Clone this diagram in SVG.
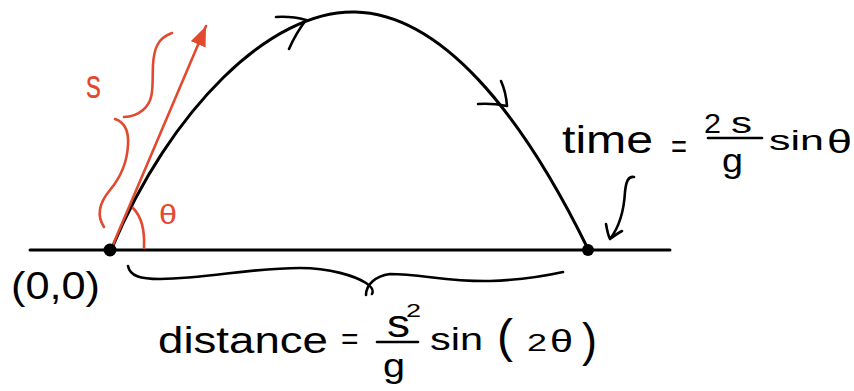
<svg xmlns="http://www.w3.org/2000/svg" width="854" height="391" viewBox="0 0 854 391">
<defs>
<style>
.ink{fill:none;stroke:#000;stroke-width:3;stroke-linecap:round;stroke-linejoin:round}
.thin{fill:none;stroke:#000;stroke-width:2.6;stroke-linecap:round;stroke-linejoin:round}
.red{fill:none;stroke:#e2492f;stroke-width:2.6;stroke-linecap:round;stroke-linejoin:round}
.t{font-family:"Liberation Sans",Arial,sans-serif;fill:#000}
.tr{font-family:"Liberation Sans",Arial,sans-serif;fill:#e2492f}
</style>
<marker id="redhead" markerUnits="userSpaceOnUse" markerWidth="22" markerHeight="18" refX="20" refY="8" orient="auto">
<path d="M0,0 L20,8 L0,16 z" fill="#e2492f"/>
</marker>
</defs>
<rect width="854" height="391" fill="#fff"/>

<g id="ground">
<line class="ink" x1="30" y1="250" x2="670" y2="250"/>
</g>

<g id="connectors">
<path id="trajectory" class="ink" d="M112,248 C170,110 270,10 355,12 C440,14 520,110 588,249"/>
<path id="chevron1" class="thin" d="M276,17 Q292,16 306,20 Q296,33 289,49"/>
<path id="chevron2" class="thin" d="M501,81 Q506,92 507,106 Q492,103 478,104"/>
<line id="velocity" class="red" x1="112" y1="247" x2="206" y2="26" stroke-width="3" marker-end="url(#redhead)"/>
<path id="time-pointer" class="thin" d="M634,177 C628,176 626,182 625,192 C624,210 620,226 610,239 M606,224 C607,230 608,235 610,239 C614,236 618,233 622,231"/>
</g>

<g id="origin">
<circle cx="110" cy="250" r="6.5" fill="#000"/>
<text class="t" x="11" y="299" font-size="38" textLength="89" lengthAdjust="spacingAndGlyphs">(0,0)</text>
</g>

<g id="landing">
<circle cx="588" cy="250" r="6" fill="#000"/>
</g>

<g id="speed-label">
<path class="red" d="M172,33 C158,38 154,48 153,65 C152,85 155,100 143,110 C137,115 130,117 124,117"/>
<path class="red" d="M115,119 C124,122 129,130 128,145 C127,165 120,178 110,190 C100,202 96,215 104,227"/>
<text class="tr" x="86" y="98" font-size="40" textLength="15" lengthAdjust="spacingAndGlyphs">s</text>
</g>

<g id="angle-label">
<path class="red" d="M133,208 C141,216 145,228 144,248"/>
<text class="tr" x="159" y="224" font-size="27" textLength="18" lengthAdjust="spacingAndGlyphs">θ</text>
</g>

<g id="distance-label">
<path class="thin" d="M128,266 C130,276 140,279 160,279 C210,278 250,268 300,268 C330,268 355,276 366,283 C372,287 374,290 372,294"/>
<path class="thin" d="M366,295 C366,285 375,276 390,274 C420,274 450,282 490,281 C520,280 545,276 563,272"/>
<line class="thin" x1="377" y1="342" x2="418" y2="342"/>
<text class="t"><tspan x="158" y="353" font-size="36" textLength="170" lengthAdjust="spacingAndGlyphs">distance</tspan><tspan x="341" y="349" font-size="30">=</tspan><tspan x="387" y="337" font-size="38" textLength="23" lengthAdjust="spacingAndGlyphs">s</tspan><tspan x="406" y="317" font-size="18" textLength="15" lengthAdjust="spacingAndGlyphs">2</tspan></text>
<text class="t"><tspan x="383" y="377" font-size="34" textLength="22" lengthAdjust="spacingAndGlyphs">g</tspan><tspan x="430" y="350" font-size="32" textLength="53" lengthAdjust="spacingAndGlyphs">sin</tspan><tspan x="497" y="352" font-size="46" textLength="16" lengthAdjust="spacingAndGlyphs">(</tspan><tspan x="527" y="351" font-size="23" textLength="20" lengthAdjust="spacingAndGlyphs">2</tspan><tspan x="550" y="352" font-size="32" textLength="23" lengthAdjust="spacingAndGlyphs">θ</tspan><tspan x="582" y="356" font-size="46" textLength="15" lengthAdjust="spacingAndGlyphs">)</tspan></text>
</g>

<g id="time-label">
<line class="thin" x1="708" y1="138" x2="762" y2="138"/>
<text class="t"><tspan x="562" y="153" font-size="38" textLength="91" lengthAdjust="spacingAndGlyphs">time</tspan><tspan x="671" y="158" font-size="33" textLength="16" lengthAdjust="spacingAndGlyphs">=</tspan><tspan x="704" y="133" font-size="28" textLength="17" lengthAdjust="spacingAndGlyphs">2</tspan><tspan x="731" y="133" font-size="30" textLength="21" lengthAdjust="spacingAndGlyphs">s</tspan></text>
<text class="t"><tspan x="722" y="172" font-size="34" textLength="21" lengthAdjust="spacingAndGlyphs">g</tspan><tspan x="769" y="150" font-size="28" textLength="55" lengthAdjust="spacingAndGlyphs">sin</tspan><tspan x="827" y="153" font-size="34" textLength="25" lengthAdjust="spacingAndGlyphs">θ</tspan></text>
</g>
</svg>
